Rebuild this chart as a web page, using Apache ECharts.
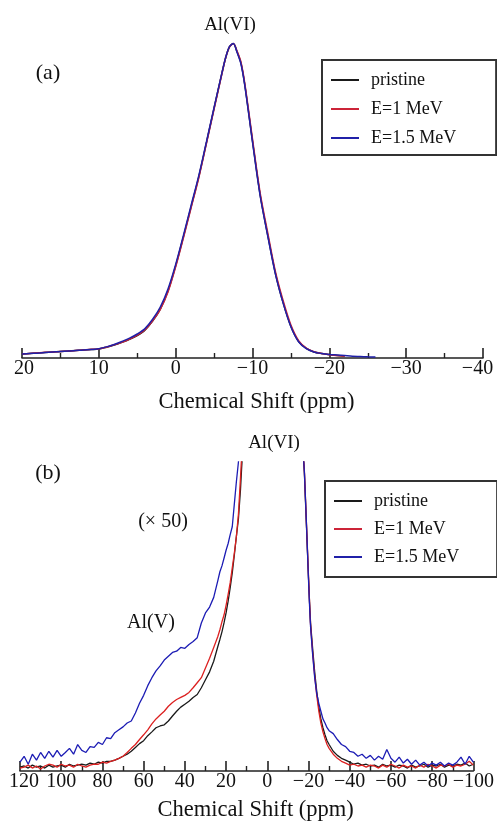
<!DOCTYPE html>
<html><head><meta charset="utf-8">
<script src="https://cdn.jsdelivr.net/npm/echarts@6/dist/echarts.min.js"></script>
<style>html,body{margin:0;padding:0;background:#fff}#c{width:497px;height:823px}</style>
</head><body><div id="c"></div>
<script>
// ---------- Panel (a) ----------
const ppmA = [20,19,18,17,16,15,14,13,12,11,10,9,8,7,6,5,4,3,2,1,0,-1,-2,-3,-4,-5,-6,-6.5,-7,-7.5,-8,-8.5,-9,-10,-11,-12,-13,-14,-15,-16,-17,-18,-19,-20,-21,-22,-23,-24,-25,-26];
const pristineA = [1.33,1.5,1.67,1.83,2.0,2.17,2.33,2.5,2.67,2.83,3.0,3.6,4.3,5.2,6.2,7.5,9.3,12.3,16.3,22.3,30.7,40.3,50.3,60.3,71.7,83.3,94.7,100,103.7,104.8,102,98.3,91,72.3,54.3,40.7,28.0,18.3,10.5,5.5,3.2,2.0,1.5,1.17,0.83,0.67];
const e1A = [1.4,1.5,1.7,1.9,2.0,2.2,2.3,2.5,2.7,2.9,3.0,3.6,4.4,5.2,6.3,7.6,9.4,12.4,16.2,22.0,30.4,40.0,50.0,60.0,71.5,83.0,94.5,100,103.6,104.8,102.2,98.6,91.5,73.0,55.0,41.5,28.6,19.0,11.0,5.8,3.3,2.1,1.5,1.1,0.8,0.6];
const e15A = [1.3,1.5,1.6,1.8,2.0,2.2,2.3,2.5,2.7,2.8,3.1,3.7,4.5,5.5,6.6,8.0,9.8,12.9,17.0,23.0,31.2,40.8,50.8,60.7,72.0,83.5,94.8,100.1,103.8,104.8,101.8,98.0,90.8,72.0,54.0,40.5,27.8,18.2,10.4,5.4,3.1,2.0,1.5,1.2,1.0,0.8,0.6,0.5,0.4,0.33];

// ---------- Panel (b) ----------
const ppmB = [120,118,116,114,112,110,108,106,104,102,100,98,96,94,92,90,88,86,84,82,80,78,76,74,72,70,68,66,64,62,60,58,56,54,52,50,48,46,44,42,40,38,36,34,32,30,28,26,24,23,22,21,20,19,18,17,16,15,14,13,12.5,12,11,10,8,0,-7,-14,-16,-17,-17.5,-18,-18.5,-19,-19.5,-20,-20.5,-21,-22,-23,-24,-25,-26,-27,-28,-29,-30,-32,-34,-36,-38,-40,-42,-44,-46,-48,-50,-52,-54,-56,-58,-60,-62,-64,-66,-68,-70,-72,-74,-76,-78,-80,-82,-84,-86,-88,-90,-92,-94,-96,-98,-100];
const pristineB = [1.3,1.7,1.0,2.0,1.3,1.7,1.0,2.0,1.3,1.7,2.0,1.3,2.3,1.7,2.0,2.3,2.0,2.7,2.3,3.0,2.7,3.3,3.3,3.7,4.3,5.0,5.7,6.7,8.0,9.3,10.3,12.0,13.3,14.7,15.3,15.7,17.0,18.7,20.3,21.7,22.7,23.7,25.0,26.0,28.3,31.0,33.7,37.3,42.3,
  44.7,47.3,50.3,53.7,57.7,62.3,67.3,73.3,79.7,85.7,95.7,
  102.3,108.3,119,132,160,250,300,250,125.7,
  112.3,107.0,101.3,92.3,83.3,74.3,65.7,57.3,50.3,
  41.7,33.7,27.0,21.7,17.7,14.7,12.3,10.3,9.0,
  6.7,5.3,4.3,3.7,3.0,2.3,2.7,2.0,2.3,1.7,2.0,1.3,2.3,1.7,2.0,1.3,2.0,1.7,1.0,2.0,1.3,1.7,2.3,1.3,2.0,1.7,2.3,1.3,2.0,1.7,2.3,2.0,2.7,1.7,2.3];
const e1B = [1.0,1.3,2.0,1.0,1.7,0.7,1.7,2.3,2.0,1.3,2.3,1.7,2.0,1.3,2.3,1.7,1.3,2.0,2.3,2.3,3.0,2.7,3.3,3.7,4.3,5.0,6.3,7.7,9.0,10.7,12.3,14.0,16.0,17.7,19.0,20.3,22.0,23.3,24.3,25.0,25.7,26.7,28.3,30.0,31.7,35.0,38.3,42.0,45.7,
  48.0,50.7,53.0,56.3,60.0,64.0,69.0,74.0,79.7,87.3,99.7,
  106.3,112.3,124,135.7,165,250,300,250,125.7,
  113.0,107.7,102.0,93.3,84.3,75.3,66.3,57.7,49.7,
  40.3,32.3,25.7,20.3,16.3,13.3,11.0,9.0,7.7,
  5.7,4.3,3.3,2.7,2.0,2.3,1.7,2.0,1.3,2.0,1.7,1.0,2.0,1.3,2.3,1.7,1.0,2.0,1.3,1.7,1.0,2.0,1.3,2.3,1.7,1.0,2.0,1.7,2.3,1.3,2.0,1.7,2.3,3.3,2.0];
const e15B = [3.0,5.0,2.3,5.7,3.7,6.3,4.3,6.7,4.7,7.0,5.0,6.3,7.7,5.7,9.0,7.0,6.3,8.3,8.0,9.7,9.0,11.3,11.0,13.0,14.0,15.0,16.3,17.0,19.7,23.0,25.7,29.0,31.7,34.0,35.7,37.7,39.0,40.3,40.7,42.0,41.7,43.0,44.0,45.3,50.3,53.7,55.7,59.0,64.7,
  67.7,69.7,72.3,75.0,77.3,80.3,83.0,90.7,98.3,105.0,115.7,
  120.7,125.7,135,145,170,250,300,250,125.7,
  112.3,107.3,101.7,93.0,84.0,74.7,65.0,56.3,49.0,
  39.7,31.7,26.3,23.0,20.3,17.7,16.3,14.7,13.7,
  12.7,10.7,9.0,8.3,6.7,6.3,5.0,5.7,4.3,5.3,3.7,5.0,4.0,7.3,4.3,3.0,4.7,2.7,4.0,2.3,3.7,2.0,3.0,1.7,2.7,2.0,3.0,1.7,2.7,2.0,3.0,4.7,2.3,5.0,3.0];

const NAMES = ['pristine','E=1 MeV','E=1.5 MeV'];
const FONT = "'Liberation Serif','Times New Roman','DejaVu Serif',serif";
const COLORS_A = ['#1a1a1a','#cc2438','#2020a8'];
const COLORS_B = ['#1a1a1a','#dc2020','#1c1cb4'];

function pairs(xs, ys){ return ys.map((y,i)=>[xs[i], y]); }
function fmt(v){ return v < 0 ? '\u2212' + (-v) : String(v); }

function xAxisCfg(grid, min, max, interval, nameGap, namePadLeft, edgeFmt, rich){
  return {
    gridIndex: grid, type:'value', inverse:true, min:min, max:max, interval:interval,
    name:'Chemical Shift (ppm)', nameLocation:'middle', nameGap:nameGap,
    nameTextStyle:{fontFamily:FONT, fontSize:22.5, color:'#111', padding:[0,0,0,namePadLeft]},
    axisLine:{show:true, onZero:false, lineStyle:{color:'#222', width:1.6}},
    axisTick:{show:true, inside:true, length:10, lineStyle:{color:'#222', width:1.6}},
    minorTick:{show:true, splitNumber:2, length:5, lineStyle:{color:'#222', width:1.4}},
    splitLine:{show:false}, minorSplitLine:{show:false},
    axisLabel:{margin:1, showMinLabel:true, showMaxLabel:true, hideOverlap:false,
      fontFamily:FONT, fontSize:20, color:'#111', formatter:edgeFmt, rich:rich}
  };
}
function legendCfg(left, top, gap, padding){
  return {
    orient:'vertical', left:left, top:top, itemWidth:28, itemHeight:2, icon:'rect',
    itemGap:gap, padding:padding, borderColor:'#333', borderWidth:2, selectedMode:false,
    textStyle:{fontFamily:FONT, fontSize:18, color:'#111', padding:[0,0,0,7]},
    data:NAMES
  };
}
function lineSeries(name, xi, data, color, smooth, width){
  return {name:name, type:'line', xAxisIndex:xi, yAxisIndex:xi, data:data, showSymbol:false, symbol:'none',
    smooth:smooth, clip:true, color:color, lineStyle:{color:color, width:width}, emphasis:{disabled:true}};
}
function txt(x, y, s, size){
  return {type:'text', x:x, y:y, style:{text:s, fontFamily:FONT, fontSize:size, fill:'#111', align:'center', verticalAlign:'middle'}};
}

const chart = echarts.init(document.getElementById('c'), null, {renderer:'canvas'});
chart.setOption({
  animation:false,
  backgroundColor:'#fff',
  grid:[{left:22, right:14, top:43, bottom:465},{left:20, right:22, top:462, bottom:46}],
  xAxis:[
    xAxisCfg(0, -40, 20, 10, 33, 8,
      v => v === -40 ? '{r|' + fmt(v) + '}' : (v === 20 ? '{l|' + fmt(v) + '}' : fmt(v)),
      {r:{fontFamily:FONT, fontSize:20, color:'#111', padding:[0,11,0,0]}, l:{fontFamily:FONT, fontSize:20, color:'#111', padding:[0,0,0,4]}}),
    xAxisCfg(1, -100, 120, 20, 28, 18,
      v => v === 120 ? '{l|' + fmt(v) + '}' : fmt(v),
      {l:{fontFamily:FONT, fontSize:20, color:'#111', padding:[0,0,0,8]}})
  ],
  yAxis:[
    {gridIndex:0, type:'value', min:0, max:105, show:false},
    {gridIndex:1, type:'value', min:0, max:105, show:false}
  ],
  legend:[
    legendCfg(322, 60, 11, [11,40,8,9]),
    legendCfg(325, 481, 10, [11,38,11,9])
  ],
  series:[
    lineSeries(NAMES[0], 0, pairs(ppmA, pristineA), COLORS_A[0], 0.3, 1.5),
    lineSeries(NAMES[1], 0, pairs(ppmA, e1A), COLORS_A[1], 0.3, 1.5),
    lineSeries(NAMES[2], 0, pairs(ppmA, e15A), COLORS_A[2], 0.3, 1.5),
    lineSeries(NAMES[0], 1, pairs(ppmB, pristineB), COLORS_B[0], false, 1.3),
    lineSeries(NAMES[1], 1, pairs(ppmB, e1B), COLORS_B[1], false, 1.3),
    lineSeries(NAMES[2], 1, pairs(ppmB, e15B), COLORS_B[2], false, 1.3)
  ],
  graphic:[
    txt(230, 25, 'Al(VI)', 19),
    txt(48, 73, '(a)', 22),
    txt(48, 473, '(b)', 22),
    txt(274, 443, 'Al(VI)', 19),
    txt(163, 522, '(\u00d7 50)', 20),
    txt(151, 623, 'Al(V)', 20)
  ]
});
</script></body></html>
